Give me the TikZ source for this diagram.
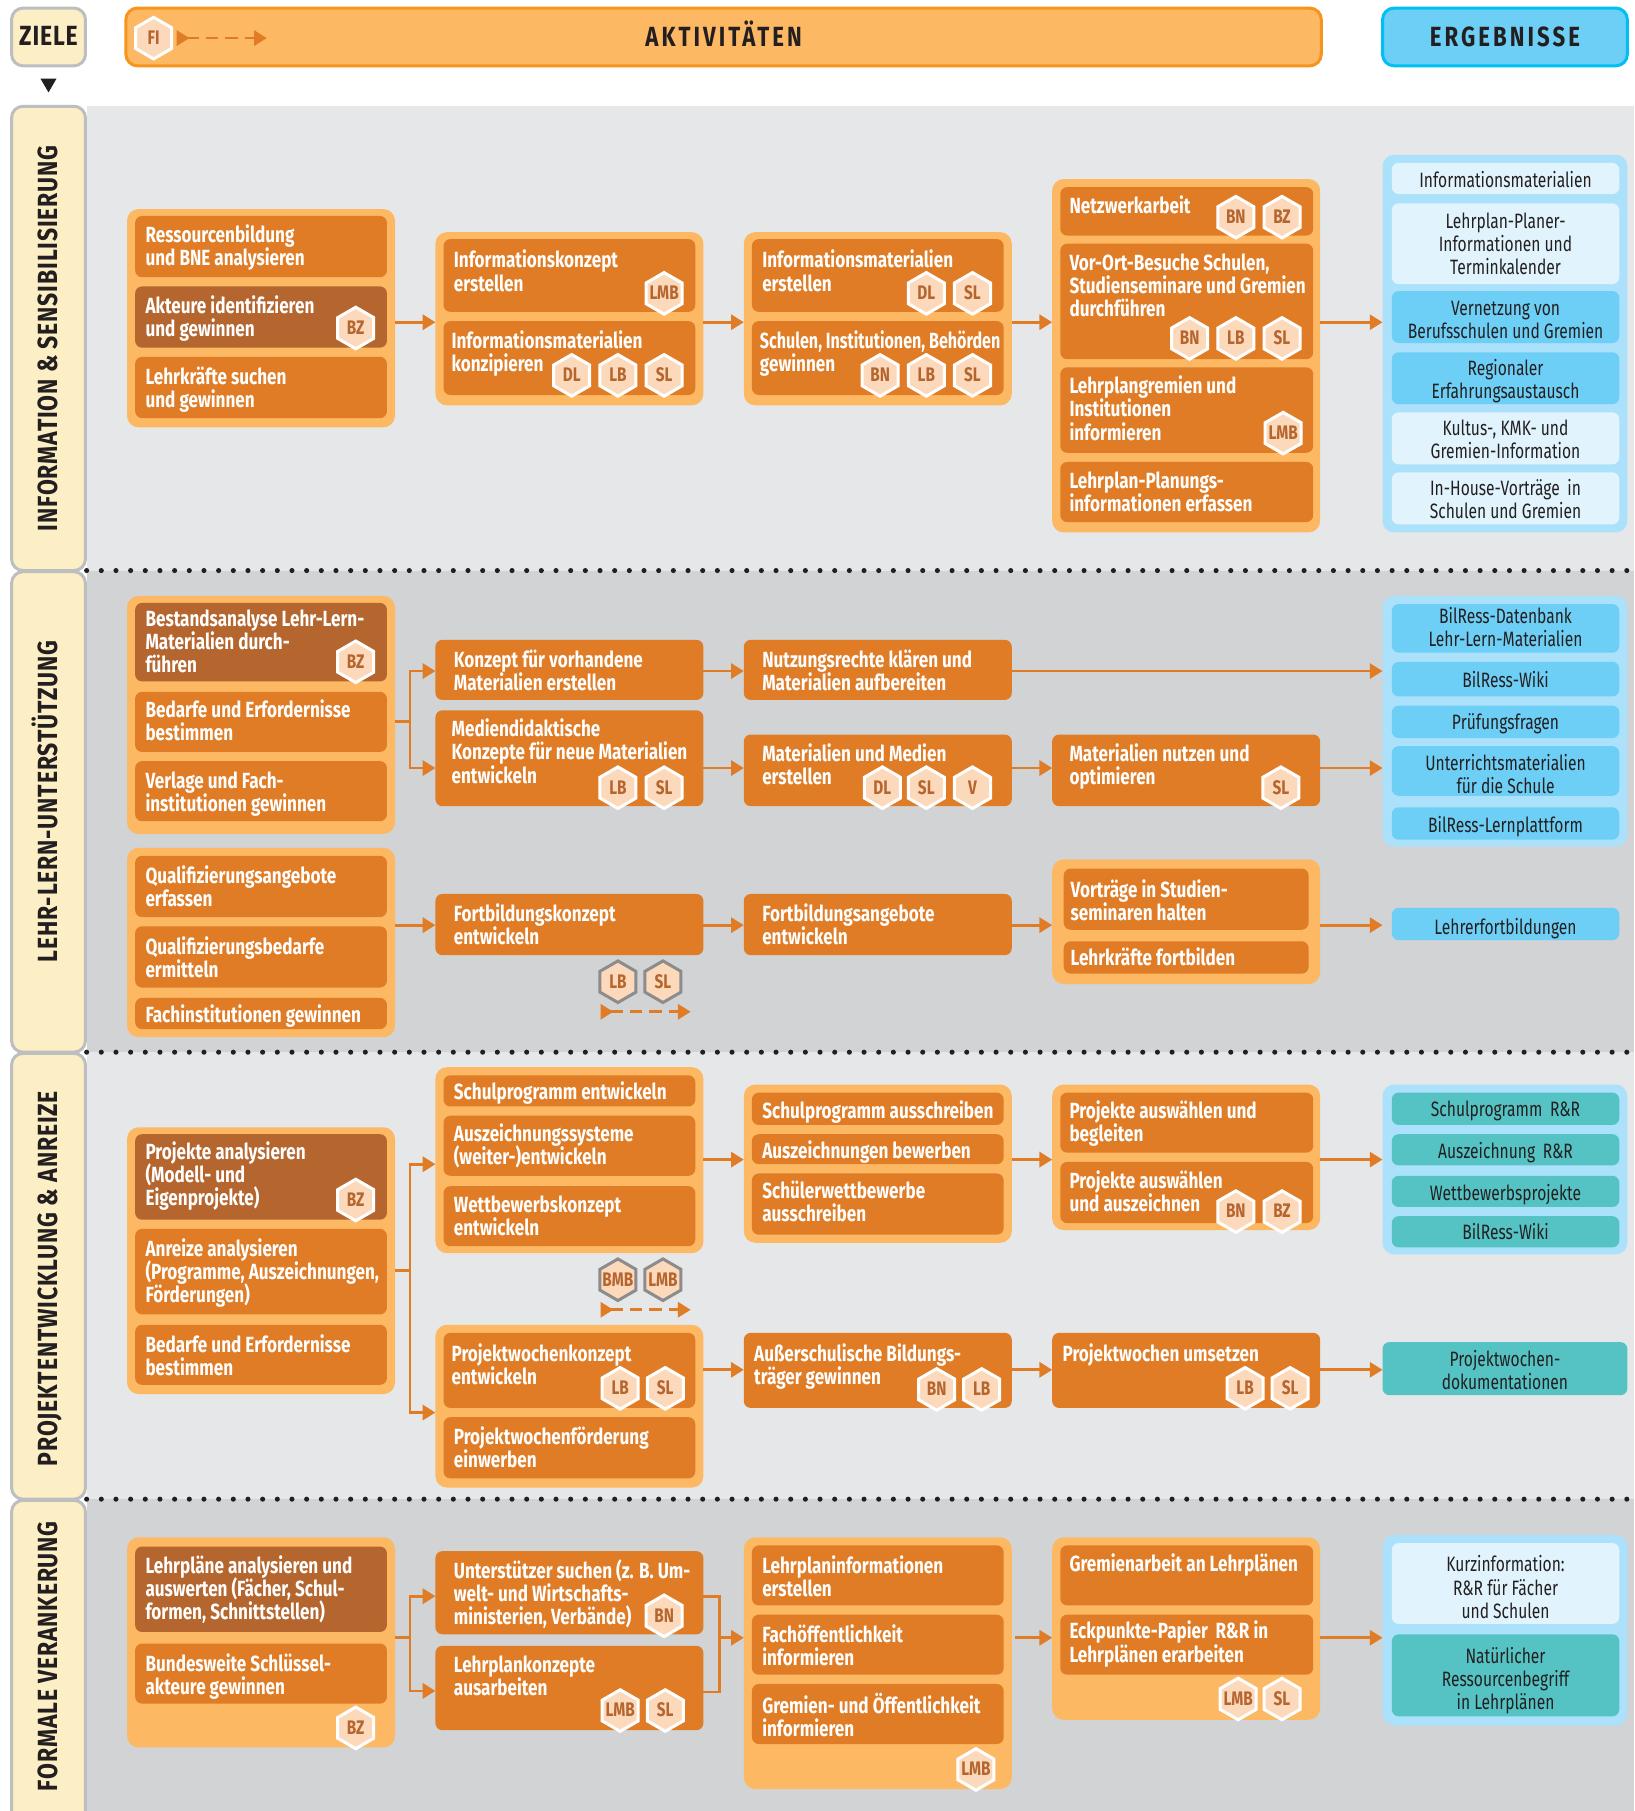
\documentclass[tikz,border=0pt]{standalone}
\usepackage{fontspec}
\usepackage{graphicx}
\usetikzlibrary{arrows.meta,shapes.geometric}
\newfontfamily\cfont[FakeStretch=0.78]{Fira Sans}
\newfontfamily\rfont[FakeStretch=0.75]{Fira Sans}
\newfontfamily\lsfont[FakeStretch=0.80,LetterSpace=11]{Fira Sans}
\newfontfamily\tabfont[FakeStretch=0.83,LetterSpace=3]{Fira Sans}
\definecolor{bandL}{HTML}{E6E7E8}
\definecolor{bandD}{HTML}{D1D3D4}
\definecolor{tabF}{HTML}{FDEFC5}
\definecolor{tabS}{HTML}{BCBEC0}
\definecolor{orO}{HTML}{FDB863}
\definecolor{orS}{HTML}{F7941D}
\definecolor{orI}{HTML}{DF7C25}
\definecolor{orD}{HTML}{B5652E}
\definecolor{hexF}{HTML}{FDD9BC}
\definecolor{blO}{HTML}{ABE1FA}
\definecolor{blM}{HTML}{6DCFF6}
\definecolor{blL}{HTML}{E1F4FD}
\definecolor{blS}{HTML}{00BFF3}
\definecolor{teal}{HTML}{55C3C4}
\definecolor{ink}{HTML}{231F20}
\tikzset{
  box/.style={inner sep=0pt,outer sep=0pt,anchor=north west,rounded corners=6pt},
  outerO/.style={box,fill=orO,rounded corners=10pt},
  outerB/.style={box,fill=blO,rounded corners=10pt},
  act/.style={box,fill=orI,text=white,font=\cfont\bfseries\fontsize{19}{20}\selectfont},
  actD/.style={act,fill=orD},
  resL/.style={box,fill=blL,text=ink,font=\rfont\fontsize{18}{20}\selectfont},
  resM/.style={resL,fill=blM},
  resT/.style={resL,fill=teal},
  hexa/.style={regular polygon,regular polygon sides=6,shape border rotate=30,minimum size=36pt,inner sep=0pt,outer sep=0pt,
     fill=hexF,draw=white,line width=2.6pt,text=orD,font=\cfont\bfseries\fontsize{17}{17}\selectfont},
  hexg/.style={hexa,draw=black!45},
  arr/.style={draw=orI,line width=2.4pt,-{Triangle[length=11pt,width=13pt]}},
  lin/.style={draw=orI,line width=2.4pt},
  dasharr/.style={draw=orI,line width=2.4pt,dash pattern=on 11pt off 6pt,
     {Triangle[reversed,length=11pt,width=13pt]}-{Triangle[length=11pt,width=13pt]}},
  dotline/.style={draw=ink,line width=4.4pt,line cap=round,dash pattern=on 0pt off 12.7pt},
  tab/.style={rounded corners=10pt,fill=tabF,draw=tabS,line width=2.6pt,inner sep=0pt,text=ink,
     text height=15pt,text depth=0pt,font=\tabfont\bfseries\fontsize{24}{24}\selectfont},
  head/.style={rounded corners=10pt,line width=2.6pt,inner sep=0pt,text=ink,text height=16.6pt,text depth=0pt,
     font=\lsfont\bfseries\fontsize{24}{24}\selectfont}
}
% style name x1 y1 x2 y2
\newcommand{\grp}[6]{\pgfmathsetmacro\bw{#5-#3}\pgfmathsetmacro\bh{#6-#4}%
  \node[#1,minimum width=\bw pt,minimum height=\bh pt] (#2) at (#3,#4) {};}
% style name x1 y1 x2 y2 textx firstlinecentre text
\newcommand{\bxl}[9]{\pgfmathsetmacro\bw{#5-#3}\pgfmathsetmacro\bh{#6-#4}%
  \pgfmathsetmacro\bdx{#7-#3}\pgfmathsetmacro\bdy{#8-#4+7-16}%
  \node[#1] (#2) at (#3,#4) {\parbox[c][\bh pt][t]{\bw pt}{\lineskiplimit=-100pt\leftskip=\bdx pt\rightskip=0pt plus 1fil\parindent=0pt\vspace*{\bdy pt}\rule{0pt}{16pt}#9\par}};}
\newcommand{\bxc}[8]{\pgfmathsetmacro\bw{#5-#3}\pgfmathsetmacro\bh{#6-#4}%
  \pgfmathsetmacro\bdy{#7-#4+7-16}%
  \node[#1] (#2) at (#3,#4) {\parbox[c][\bh pt][t]{\bw pt}{\lineskiplimit=-100pt\centering\vspace*{\bdy pt}\rule{0pt}{16pt}#8\par}};}
\newcommand{\hx}[5][hexa]{\node[#1] (#2) at (#3,#4) {\raisebox{-5.5pt}[0pt][0pt]{\makebox[0pt]{#5}}};}
\begin{document}
\begin{tikzpicture}[x=1pt,y=-1pt]
\useasboundingbox (0,0) rectangle (1415,1568);
\clip (0,0) rectangle (1415,1568);
\fill[white] (0,0) rectangle (1415,1568);
% bands
\fill[bandL] (75,92) rectangle (1415,494);
\fill[bandD] (75,494) rectangle (1415,911);
\fill[bandL] (75,911) rectangle (1415,1298);
\fill[bandD] (75,1298) rectangle (1415,1568);
\draw[dotline] (75,494) -- (1415,494);
\draw[dotline] (75,911) -- (1415,911);
\draw[dotline] (75,1298) -- (1415,1298);
% tabs
\node[tab,minimum width=64pt,minimum height=50pt] (ziele) at (42,32) {ZIELE};
\fill[ink] (35,68) -- (49,68) -- (42,80) -- cycle;
\node[tab,rotate=90,minimum width=402pt,minimum height=64pt] (t1) at (42,293) {INFORMATION \& SENSIBILISIERUNG};
\node[tab,rotate=90,minimum width=416pt,minimum height=64pt] (t2) at (42,703) {\hspace*{18pt}LEHR-LERN-UNTERSTÜTZUNG};
\node[tab,rotate=90,minimum width=386pt,minimum height=64pt] (t3) at (42,1105) {PROJEKTENTWICKLUNG \& ANREIZE\hspace*{4pt}};
\node[tab,rotate=90,minimum width=300pt,minimum height=64pt] (t4) at (42,1449) {\hspace*{30pt}FORMALE VERANKERUNG};
% header
\node[head,fill=orO,draw=orS,minimum width=1035pt,minimum height=50pt] (akt) at (626.5,32) {AKTIVITÄTEN};
\node[head,fill=blM,draw=blS,minimum width=212pt,minimum height=50pt] (erg) at (1303,32) {ERGEBNISSE};
\hx{fi}{133}{33}{FI}
\coordinate (fia) at (153,33); \coordinate (fib) at (231,33);
\draw[dasharr] (fia) -- (fib);

% ---- Section 1
\grp{outerO}{A}{110}{181}{342}{370}
\bxl{act}{a1}{117}{187}{335}{240}{126}{203}{Ressourcenbildung\\und BNE analysieren}
\bxl{actD}{a2}{117}{248}{335}{301}{126}{264}{Akteure identifizieren\\und gewinnen}
\bxl{act}{a3}{117}{309}{335}{362}{126}{326}{Lehrkräfte suchen\\und gewinnen}
\hx{h1}{308}{284}{BZ}
\grp{outerO}{B}{377}{201}{609}{351}
\bxl{act}{b1}{384}{207}{602}{270}{393}{225}{Informationskonzept\\erstellen}
\bxl{act}{b2}{384}{278}{602}{342}{391}{295}{Informationsmaterialien\\konzipieren}
\hx{h2}{575}{254}{LMB}\hx{h3}{495}{325}{DL}\hx{h4}{535}{325}{LB}\hx{h5}{575}{325}{SL}
\grp{outerO}{C}{644}{201}{876}{351}
\bxl{act}{c1}{651}{207}{869}{270}{660}{225}{Informationsmaterialien\\erstellen}
\bxl{act}{c2}{651}{278}{869}{342}{658}{295}{\makebox[0pt][l]{\scalebox{0.94}[1]{Schulen, Institutionen, Behörden}}\\gewinnen}
\hx{h6}{802}{254}{DL}\hx{h7}{842}{254}{SL}
\hx{h8}{762}{325}{BN}\hx{h9}{802}{325}{LB}\hx{h10}{842}{325}{SL}
\grp{outerO}{D}{911}{155}{1143}{461}
\bxl{act}{d1}{918}{162}{1137}{204}{926}{178}{Netzwerkarbeit}
\bxl{act}{d2}{918}{211}{1137}{311}{926}{227}{Vor-Ort-Besuche Schulen,\\Studienseminare und Gremien\\durchführen}
\bxl{act}{d3}{918}{318}{1137}{392}{926}{334}{Lehrplangremien und\\Institutionen\\informieren}
\bxl{act}{d4}{918}{400}{1137}{452}{926}{416}{Lehrplan-Planungs-\\informationen erfassen}
\hx{h11}{1070}{188}{BN}\hx{h12}{1110}{188}{BZ}
\hx{h13}{1030}{293}{BN}\hx{h14}{1070}{293}{LB}\hx{h15}{1110}{293}{SL}
\hx{h16}{1111}{375}{LMB}
\grp{outerB}{E}{1197}{134}{1409}{461}
\bxc{resL}{e1}{1205}{141}{1402}{168}{155}{Informationsmaterialien}
\bxc{resL}{e2}{1205}{176}{1402}{246}{191}{Lehrplan-Planer-\\Informationen und\\Terminkalender}
\bxc{resM}{e3}{1205}{252}{1402}{297}{266}{Vernetzung von\\Berufsschulen und Gremien}
\bxc{resM}{e4}{1205}{305}{1402}{350}{318}{Regionaler\\Erfahrungsaustausch}
\bxc{resL}{e5}{1205}{357}{1402}{402}{370}{Kultus-, KMK- und\\Gremien-Information}
\bxc{resL}{e6}{1205}{409}{1402}{454}{422}{In-House-Vorträge\hspace{3pt} in\\Schulen und Gremien}
\draw[arr] (A.east |- 0,279) -- (B.west |- 0,279);
\draw[arr] (B.east |- 0,279) -- (C.west |- 0,279);
\draw[arr] (C.east |- 0,279) -- (D.west |- 0,279);
\draw[arr] (D.east |- 0,279) -- (E.west |- 0,279);

% ---- Section 2
\grp{outerO}{F}{110}{516}{342}{722}
\bxl{actD}{f1}{117}{522}{335}{590}{126}{535}{Bestandsanalyse Lehr-Lern-\\Materialien durch-\\führen}
\bxl{act}{f2}{117}{599}{335}{651}{126}{614}{Bedarfe und Erfordernisse\\bestimmen}
\bxl{act}{f3}{117}{659}{335}{711}{126}{676}{Verlage und Fach-\\institutionen gewinnen}
\hx{h17}{308}{573}{BZ}
\bxl{act}{G}{377}{554}{609}{606}{393}{571}{Konzept für vorhandene\\Materialien erstellen}
\bxl{act}{H}{377}{615}{609}{698}{391}{631}{Mediendidaktische\\Konzepte für neue Materialien\\entwickeln}
\hx{h18}{535}{682}{LB}\hx{h19}{575}{682}{SL}
\bxl{act}{I}{644}{554}{876}{606}{660}{571}{Nutzungsrechte klären und\\Materialien aufbereiten}
\bxl{act}{J}{644}{636}{876}{698}{660}{652}{Materialien und Medien\\erstellen}
\hx{h20}{764}{682}{DL}\hx{h21}{802}{682}{SL}\hx{h22}{842}{682}{V}
\bxl{act}{K}{911}{636}{1143}{698}{926}{652}{Materialien nutzen und\\optimieren}
\hx{h23}{1109}{682}{SL}
\grp{outerB}{L}{1197}{516}{1409}{733}
\bxc{resM}{l1}{1205}{523}{1402}{565}{533}{BilRess-Datenbank\\Lehr-Lern-Materialien}
\bxc{resM}{l2}{1205}{573}{1402}{603}{588}{BilRess-Wiki}
\bxc{resM}{l3}{1205}{611}{1402}{639}{625}{Prüfungsfragen}
\bxc{resM}{l4}{1205}{646}{1402}{689}{660}{Unterrichtsmaterialien\\für die Schule}
\bxc{resM}{l5}{1205}{699}{1402}{727}{714}{BilRess-Lernplattform}
\coordinate (fs) at (355,625);
\draw[lin] (F.east |- fs) -- (fs);
\draw[arr] (fs) -- (fs |- 0,581) -- (G.west |- 0,581);
\draw[arr] (fs) -- (fs |- 0,665) -- (H.west |- 0,665);
\draw[arr] (G.east |- 0,581) -- (I.west |- 0,581);
\draw[arr] (I.east |- 0,581) -- (L.west |- 0,581);
\draw[arr] (H.east |- 0,665) -- (J.west |- 0,665);
\draw[arr] (J.east |- 0,665) -- (K.west |- 0,665);
\draw[arr] (K.east |- 0,665) -- (L.west |- 0,665);

\grp{outerO}{M}{110}{734}{342}{898}
\bxl{act}{m1}{117}{741}{335}{794}{126}{758}{Qualifizierungsangebote\\erfassen}
\bxl{act}{m2}{117}{802}{335}{855}{126}{819}{Qualifizierungsbedarfe\\ermitteln}
\bxl{act}{m3}{117}{864}{335}{891}{126}{878}{Fachinstitutionen gewinnen}
\bxl{act}{N}{377}{774}{609}{827}{393}{791}{Fortbildungskonzept\\entwickeln}
\hx[hexg]{h24}{535}{850}{LB}\hx[hexg]{h25}{574}{850}{SL}
\coordinate (na) at (520,876); \coordinate (nb) at (598,876);
\draw[dasharr] (na) -- (nb);
\bxl{act}{O}{644}{774}{876}{827}{660}{791}{Fortbildungsangebote\\entwickeln}
\grp{outerO}{P}{911}{744}{1143}{852}
\bxl{act}{p1}{921}{752}{1133}{805}{927}{770}{Vorträge in Studien-\\seminaren halten}
\bxl{act}{p2}{921}{815}{1133}{843}{927}{829}{Lehrkräfte fortbilden}
\bxc{resM}{Q}{1205}{786}{1402}{814}{802}{Lehrerfortbildungen}
\draw[arr] (M.east |- 0,801) -- (N.west |- 0,801);
\draw[arr] (N.east |- 0,801) -- (O.west |- 0,801);
\draw[arr] (O.east |- 0,801) -- (P.west |- 0,801);
\coordinate (qs) at (1197,801);
\draw[arr] (P.east |- qs) -- (qs);

% ---- Section 3
\grp{outerO}{R}{110}{976}{342}{1207}
\bxl{actD}{r1}{117}{982}{335}{1056}{126}{997}{Projekte analysieren\\(Modell- und\\Eigenprojekte)}
\bxl{act}{r2}{117}{1064}{335}{1138}{126}{1081}{Anreize analysieren\\(Programme, Auszeichnungen,\\Förderungen)}
\bxl{act}{r3}{117}{1147}{335}{1199}{126}{1164}{Bedarfe und Erfordernisse\\bestimmen}
\hx{h26}{308}{1039}{BZ}
\grp{outerO}{S}{377}{924}{609}{1085}
\bxl{act}{s1}{384}{931}{602}{958}{393}{945}{Schulprogramm entwickeln}
\bxl{act}{s2}{384}{966}{602}{1018}{393}{981}{Auszeichnungssysteme\\(weiter-)entwickeln}
\bxl{act}{s3}{384}{1027}{602}{1079}{393}{1043}{Wettbewerbskonzept\\entwickeln}
\hx[hexg]{h27}{535}{1108}{BMB}\hx[hexg]{h28}{574}{1108}{LMB}
\coordinate (sa) at (520,1134); \coordinate (sb) at (598,1134);
\draw[dasharr] (sa) -- (sb);
\grp{outerO}{T}{644}{939}{876}{1076}
\bxl{act}{t1x}{651}{946}{869}{974}{660}{961}{Schulprogramm ausschreiben}
\bxl{act}{t2x}{651}{982}{869}{1008}{660}{996}{Auszeichnungen bewerben}
\bxl{act}{t3x}{651}{1016}{869}{1069}{660}{1031}{Schülerwettbewerbe\\ausschreiben}
\grp{outerO}{U}{911}{939}{1143}{1065}
\bxl{act}{u1}{918}{946}{1137}{998}{926}{961}{Projekte auswählen und\\begleiten}
\bxl{act}{u2}{918}{1006}{1137}{1059}{926}{1022}{Projekte auswählen\\und auszeichnen}
\hx{h29}{1070}{1049}{BN}\hx{h30}{1110}{1049}{BZ}
\grp{outerB}{V}{1197}{939}{1409}{1086}
\bxc{resT}{v1}{1205}{946}{1402}{974}{960}{Schulprogramm\hspace{3pt} R\&R}
\bxc{resT}{v2}{1205}{982}{1402}{1009}{996}{Auszeichnung\hspace{3pt} R\&R}
\bxc{resT}{v3}{1205}{1018}{1402}{1045}{1032}{Wettbewerbsprojekte}
\bxc{resT}{v4}{1205}{1053}{1402}{1080}{1066}{BilRess-Wiki}
\coordinate (rs) at (355,1100);
\draw[lin] (R.east |- rs) -- (rs);
\draw[arr] (rs) -- (rs |- 0,1008) -- (S.west |- 0,1008);
\draw[arr] (S.east |- 0,1004) -- (T.west |- 0,1004);
\draw[arr] (T.east |- 0,1004) -- (U.west |- 0,1004);
\draw[arr] (U.east |- 0,1004) -- (V.west |- 0,1004);
\grp{outerO}{W}{377}{1147}{609}{1288}
\bxl{act}{w1}{384}{1154}{602}{1219}{391}{1172}{Projektwochenkonzept\\entwickeln}
\bxl{act}{w2}{384}{1227}{602}{1280}{393}{1244}{Projektwochenförderung\\einwerben}
\hx{h31}{537}{1202}{LB}\hx{h32}{576}{1202}{SL}
\bxl{act}{X}{644}{1154}{876}{1219}{653}{1172}{Außerschulische Bildungs-\\träger gewinnen}
\hx{h33}{811}{1203}{BN}\hx{h34}{850}{1203}{LB}
\bxl{act}{Y}{911}{1154}{1143}{1219}{920}{1172}{Projektwochen umsetzen}
\hx{h35}{1078}{1202}{LB}\hx{h36}{1117}{1202}{SL}
\bxc{resT}{Z}{1197}{1162}{1409}{1208}{1176}{Projektwochen-\\dokumentationen}
\draw[arr] (rs) -- (rs |- 0,1223) -- (W.west |- 0,1223);
\draw[arr] (W.east |- 0,1186) -- (X.west |- 0,1186);
\draw[arr] (X.east |- 0,1186) -- (Y.west |- 0,1186);
\draw[arr] (Y.east |- 0,1186) -- (Z.west |- 0,1186);

% ---- Section 4
\grp{outerO}{AA}{110}{1331}{342}{1513}
\bxl{actD}{aa1}{117}{1339}{335}{1413}{126}{1355}{Lehrpläne analysieren und\\auswerten (Fächer, Schul-\\formen, Schnittstellen)}
\bxl{act}{aa2}{117}{1423}{335}{1475}{126}{1440}{Bundesweite Schlüssel-\\akteure gewinnen}
\hx{h37}{308}{1496}{BZ}
\bxl{act}{BB}{377}{1343}{609}{1415}{393}{1359}{Unterstützer suchen (z. B. Um-\\welt- und Wirtschafts-\\ministerien, Verbände)}
\hx{h38}{575}{1399}{BN}
\bxl{act}{CC}{377}{1425}{609}{1498}{393}{1441}{Lehrplankonzepte\\ausarbeiten}
\hx{h39}{537}{1481}{LMB}\hx{h40}{576}{1481}{SL}
\grp{outerO}{DD}{644}{1331}{876}{1549}
\bxl{act}{dd1}{651}{1338}{869}{1390}{660}{1355}{Lehrplaninformationen\\erstellen}
\bxl{act}{dd2}{651}{1398}{869}{1450}{660}{1415}{Fachöffentlichkeit\\informieren}
\bxl{act}{dd3}{651}{1458}{869}{1510}{660}{1475}{Gremien- und Öffentlichkeit\\informieren}
\hx{h41}{845}{1532}{LMB}
\grp{outerO}{EE}{911}{1331}{1143}{1489}
\bxl{act}{ee1}{918}{1338}{1137}{1390}{926}{1354}{Gremienarbeit an Lehrplänen}
\bxl{act}{ee2}{918}{1398}{1137}{1450}{926}{1412}{Eckpunkte-Papier\hspace{3pt} R\&R in\\Lehrplänen erarbeiten}
\hx{h42}{1072}{1471}{LMB}\hx{h43}{1110}{1471}{SL}
\grp{outerB}{FF}{1197}{1329}{1409}{1494}
\bxc{resL}{ff1}{1205}{1336}{1402}{1406}{1354}{Kurzinformation:\\R\&R für Fächer\\und Schulen}
\bxc{resT}{ff2}{1205}{1415}{1402}{1486}{1433}{Natürlicher\\Ressourcenbegriff\\in Lehrplänen}
\coordinate (as) at (355,1418);
\coordinate (bs) at (623,1418);
\draw[lin] (AA.east |- as) -- (as);
\draw[arr] (as) -- (as |- 0,1382) -- (BB.west |- 0,1382);
\draw[arr] (as) -- (as |- 0,1464) -- (CC.west |- 0,1464);
\draw[lin] (BB.east |- 0,1382) -- (bs |- 0,1382) -- (bs |- 0,1465) -- (CC.east |- 0,1465);
\draw[arr] (bs) -- (DD.west |- bs);
\coordinate (dds) at (879,1418);
\draw[arr] (dds) -- (EE.west |- dds);
\draw[arr] (EE.east |- 0,1418) -- (FF.west |- 0,1418);
\end{tikzpicture}
\end{document}
